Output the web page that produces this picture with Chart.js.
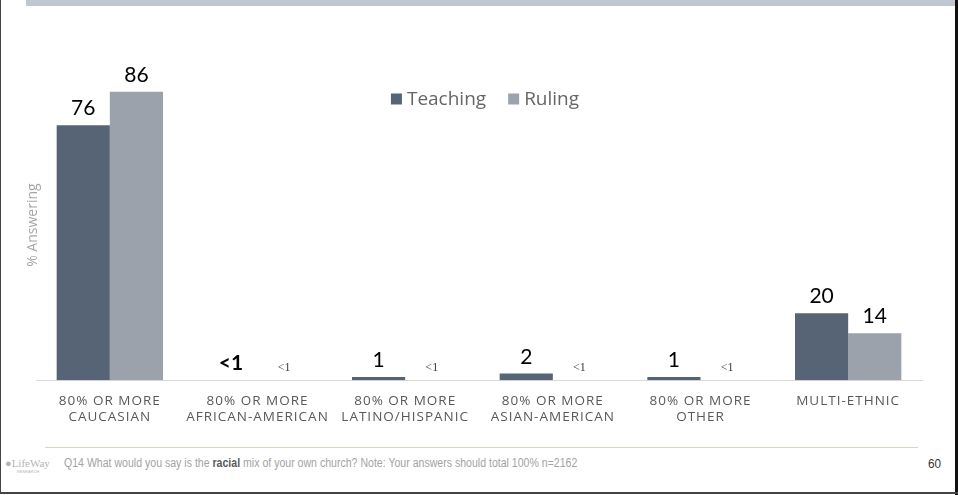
<!DOCTYPE html>
<html>
<head>
<meta charset="utf-8">
<script src="https://cdn.jsdelivr.net/npm/chart.js@4.4.1/dist/chart.umd.min.js"></script>
<style>
  html, body { margin: 0; padding: 0; background: #fff; }
  body { width: 958px; height: 495px; position: relative; overflow: hidden; font-family: "Open Sans", sans-serif; }
  #topbar { position: absolute; left: 26px; top: 0; width: 929px; height: 6px; background: #c0c7d1; }
  #frameL { position: absolute; left: 0; top: 0; width: 1px; height: 494px; background: #444; }
  #frameR { position: absolute; left: 955px; top: 0; width: 3px; height: 495px; background: #111; }
  #frameB { position: absolute; left: 0; top: 492px; width: 958px; height: 2px; background: #444; }
  #wrap { position: absolute; left: 0; top: 0; width: 958px; height: 445px; }
  #sep { position: absolute; left: 45px; top: 447px; width: 873px; height: 1px; background: #d5d9c2; }
  #note { position: absolute; left: 64px; top: 456px; font-family: "Liberation Sans", sans-serif; font-size: 12px; color: #a3a3a3; white-space: nowrap; transform: scaleX(0.88); transform-origin: 0 0; }
  #note b { color: #5a5a5a; }
  #page { position: absolute; left: 928px; top: 456px; font-family: "Liberation Sans", sans-serif; font-size: 13px; color: #333; transform: scaleX(0.9); transform-origin: 0 0; }
  #logo { position: absolute; left: 5px; top: 458px; color: #b5b5b5; font-family: "Liberation Serif", serif; font-size: 11px; line-height: 11px; }
  #logo small { display: block; font-family: "Liberation Sans", sans-serif; font-size: 4px; line-height: 6px; margin-left: 12px; }
</style>
</head>
<body>
<div id="topbar"></div>
<div id="wrap"><canvas id="chart"></canvas></div>
<div id="sep"></div>
<div id="logo">&#9679;LifeWay<small>RESEARCH</small></div>
<div id="note">Q14 What would you say is the <b>racial</b> mix of your own church? Note: Your answers should total 100% n=2162</div>
<div id="page">60</div>
<div id="frameL"></div>
<div id="frameR"></div>
<div id="frameB"></div>
<script>
const categories = [
  ['80% OR MORE', 'CAUCASIAN'],
  ['80% OR MORE', 'AFRICAN-AMERICAN'],
  ['80% OR MORE', 'LATINO/HISPANIC'],
  ['80% OR MORE', 'ASIAN-AMERICAN'],
  ['80% OR MORE', 'OTHER'],
  ['MULTI-ETHNIC']
];
const seriesNames = ['Teaching', 'Ruling'];
const teaching = [76, 0, 1, 2, 1, 20];
const ruling = [86, 0, 0, 0, 0, 14];
const teachingLabels = ['76', '<1', '1', '2', '1', '20'];
const rulingLabels = ['86', '<1', '<1', '<1', '<1', '14'];

const colors = ['#566475', '#9ba2ab'];

const valueLabels = {
  id: 'valueLabels',
  afterDatasetsDraw(chart) {
    const ctx = chart.ctx;
    const lbls = [teachingLabels, rulingLabels];
    ctx.save();
    ctx.textAlign = 'center';
    ctx.textBaseline = 'alphabetic';
    chart.data.datasets.forEach((ds, i) => {
      chart.getDatasetMeta(i).data.forEach((bar, j) => {
        const txt = lbls[i][j];
        if (i === 1 && txt === '<1') {
          ctx.font = '12px "Liberation Serif", serif';
          ctx.fillStyle = '#3a3a3a';
          ctx.fillText(txt, bar.x, bar.y - 9);
        } else {
          ctx.font = (txt === '<1' ? 'bold ' : '') + '21px Lato, sans-serif';
          ctx.fillStyle = '#000';
          ctx.fillText(txt, bar.x, bar.y - 10);
        }
      });
    });
    ctx.restore();
  }
};

const legendPlugin = {
  id: 'topLegend',
  afterDraw(chart) {
    const ctx = chart.ctx;
    const area = chart.chartArea;
    ctx.save();
    ctx.font = '19px "Open Sans", sans-serif';
    const box = 11, gap = 5, between = 22;
    const widths = seriesNames.map(n => box + gap + ctx.measureText(n).width);
    const total = widths[0] + between + widths[1];
    let x = (area.left + area.right) / 2 - total / 2 + 6;
    const y = 99;
    ctx.textBaseline = 'middle';
    seriesNames.forEach((n, i) => {
      ctx.fillStyle = colors[i];
      ctx.fillRect(x, y - box / 2, box, box);
      ctx.fillStyle = '#666';
      ctx.fillText(n, x + box + gap, y + 1);
      x += widths[i] + between;
    });
    ctx.restore();
  }
};

new Chart(document.getElementById('chart'), {
  type: 'bar',
  data: {
    labels: categories,
    datasets: [
      { label: seriesNames[0], data: teaching, backgroundColor: colors[0] },
      { label: seriesNames[1], data: ruling, backgroundColor: colors[1] }
    ]
  },
  options: {
    responsive: true,
    maintainAspectRatio: false,
    animation: false,
    devicePixelRatio: 1,
    categoryPercentage: 0.72,
    barPercentage: 1,
    layout: { padding: { left: 26, right: 36, top: 70, bottom: 15 } },
    plugins: {
      legend: { display: false },
      tooltip: { enabled: false }
    },
    scales: {
      x: {
        grid: { display: false },
        border: { display: true, color: '#d9d9d9', width: 1 },
        ticks: {
          color: '#595959',
          padding: 4,
          maxRotation: 0,
          autoSkip: false,
          font: { family: '"Open Sans", sans-serif', size: 13.5, lineHeight: 1.25 }
        },
        afterFit(scale) {
          // spaced-out caps on the category labels only
          if (!scale._spaced) {
            const orig = scale.drawLabels;
            scale.drawLabels = function (area) {
              this.ctx.letterSpacing = '1px';
              orig.call(this, area);
              this.ctx.letterSpacing = '0px';
            };
            scale._spaced = true;
          }
        }
      },
      y: {
        min: 0,
        max: 92.5,
        grid: { display: false },
        border: { display: false },
        ticks: { display: false },
        afterFit(scale) { scale.width = 10; },
        title: {
          display: true,
          text: '% Answering',
          color: '#a6a6a6',
          padding: 0,
          font: { family: '"Open Sans", sans-serif', size: 14, lineHeight: 1 }
        }
      }
    }
  },
  plugins: [valueLabels, legendPlugin]
});
</script>
</body>
</html>
